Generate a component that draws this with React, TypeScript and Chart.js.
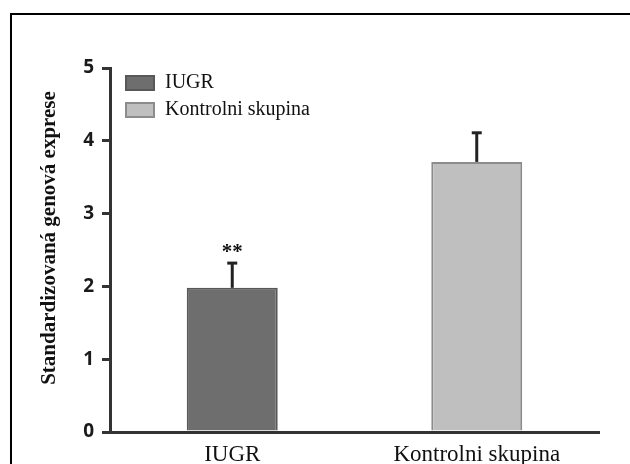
import React, { useEffect, useRef } from "react";
import { Chart, registerables } from "chart.js";

Chart.register(...registerables);

// ---- data ----
const categories = ["IUGR", "Kontrolni skupina"];
const means = [1.98, 3.71];
const errorsUp = [0.34, 0.4];
const significance = ["**", ""];
const legendLabels = ["IUGR", "Kontrolni skupina"];
const yMin = 0;
const yMax = 5;
const yStep = 1;
const yTitle = "Standardizovaná genová exprese";

// ---- styles ----
const barFill = ["#6e6e6e", "#bfbfbf"];
const barBorder = ["#585858", "#8c8c8c"];
const serif = "'Liberation Serif', 'Times New Roman', serif";
const sans = "'Open Sans', 'DejaVu Sans', sans-serif";
const ink = "#222";

const framePlugin = {
  id: "frame",
  beforeDraw(chart: any) {
    const ctx = chart.ctx;
    ctx.save();
    ctx.fillStyle = "#fff";
    ctx.fillRect(0, 0, chart.width, chart.height);
    ctx.fillStyle = "#000";
    ctx.fillRect(10, 13, chart.width - 10, 2);
    ctx.fillRect(10, 13, 2, chart.height - 13);
    ctx.restore();
  },
};

const errorBarPlugin = {
  id: "errorBars",
  afterDatasetsDraw(chart: any) {
    const ctx = chart.ctx;
    const meta = chart.getDatasetMeta(0);
    const ys = chart.scales.y;
    ctx.save();
    ctx.strokeStyle = ink;
    ctx.lineWidth = 3;
    meta.data.forEach((bar: any, i: number) => {
      const x = bar.x;
      const yBar = ys.getPixelForValue(means[i]);
      const yTop = ys.getPixelForValue(means[i] + errorsUp[i]);
      ctx.beginPath();
      ctx.moveTo(x, yBar);
      ctx.lineTo(x, yTop);
      ctx.stroke();
      ctx.beginPath();
      ctx.moveTo(x - 5, yTop);
      ctx.lineTo(x + 5, yTop);
      ctx.stroke();
      if (significance[i]) {
        ctx.fillStyle = "#111";
        ctx.font = `bold 21px ${serif}`;
        ctx.textAlign = "center";
        ctx.textBaseline = "alphabetic";
        ctx.fillText(significance[i], x, yTop - 5);
      }
    });
    ctx.restore();
  },
};

const titleLegendPlugin = {
  id: "titleLegend",
  afterDraw(chart: any) {
    const ctx = chart.ctx;
    const area = chart.chartArea;
    ctx.save();
    // y-axis title
    ctx.translate(50, 238);
    ctx.rotate(-Math.PI / 2);
    ctx.font = `bold 21px ${serif}`;
    ctx.fillStyle = "#111";
    ctx.textAlign = "center";
    ctx.textBaseline = "middle";
    ctx.fillText(yTitle, 0, 0);
    ctx.restore();

    // legend inside plot area
    ctx.save();
    const bx = area.left + 15;
    const by = area.top + 7;
    legendLabels.forEach((lab, i) => {
      const y = by + i * 27;
      ctx.fillStyle = barFill[i];
      ctx.fillRect(bx, y, 30, 16);
      ctx.strokeStyle = barBorder[i];
      ctx.lineWidth = 2;
      ctx.strokeRect(bx + 1, y + 1, 28, 14);
      ctx.fillStyle = "#111";
      ctx.font = `20px ${serif}`;
      ctx.textAlign = "left";
      ctx.textBaseline = "middle";
      ctx.fillText(lab, bx + 40, y + 8);
    });
    ctx.restore();
  },
};

export default function App() {
  const ref = useRef<HTMLCanvasElement>(null);

  useEffect(() => {
    const chart = new Chart(ref.current as HTMLCanvasElement, {
      type: "bar",
      data: {
        labels: categories,
        datasets: [
          {
            label: "exprese",
            data: means,
            backgroundColor: barFill,
            borderColor: barBorder,
            borderWidth: 2,
            categoryPercentage: 1,
            barPercentage: 0.372,
          },
        ],
      },
      options: {
        responsive: false,
        animation: false,
        devicePixelRatio: 1,
        layout: { padding: { left: 0, top: 68, right: 31, bottom: 0 } },
        plugins: {
          legend: { display: false },
          tooltip: { enabled: false },
          title: { display: false },
        },
        scales: {
          x: {
            grid: { display: false, drawTicks: false },
            border: { display: true, color: "#333", width: 3 },
            ticks: {
              padding: 9,
              color: "#111",
              font: { family: serif, size: 23 },
            },
            afterFit: (s: any) => {
              s.height = 32;
            },
          },
          y: {
            min: yMin,
            max: yMax,
            ticks: {
              stepSize: yStep,
              padding: 8,
              color: "#1a1a1a",
              font: { family: sans, size: 19, weight: "bold" },
            },
            grid: {
              display: true,
              drawOnChartArea: false,
              drawTicks: true,
              tickLength: 8,
              color: "#333",
              lineWidth: 3,
            },
            border: { display: true, color: "#333", width: 3 },
            afterFit: (s: any) => {
              s.width = 110;
            },
          },
        },
      },
      plugins: [framePlugin, errorBarPlugin, titleLegendPlugin],
    } as any);
    return () => chart.destroy();
  }, []);

  return (
    <div
      style={{
        position: "fixed",
        left: 0,
        top: 0,
        width: 630,
        height: 464,
        background: "#fff",
      }}
    >
      <canvas
        ref={ref}
        width={630}
        height={464}
        style={{ display: "block", width: 630, height: 464 }}
      />
    </div>
  );
}
